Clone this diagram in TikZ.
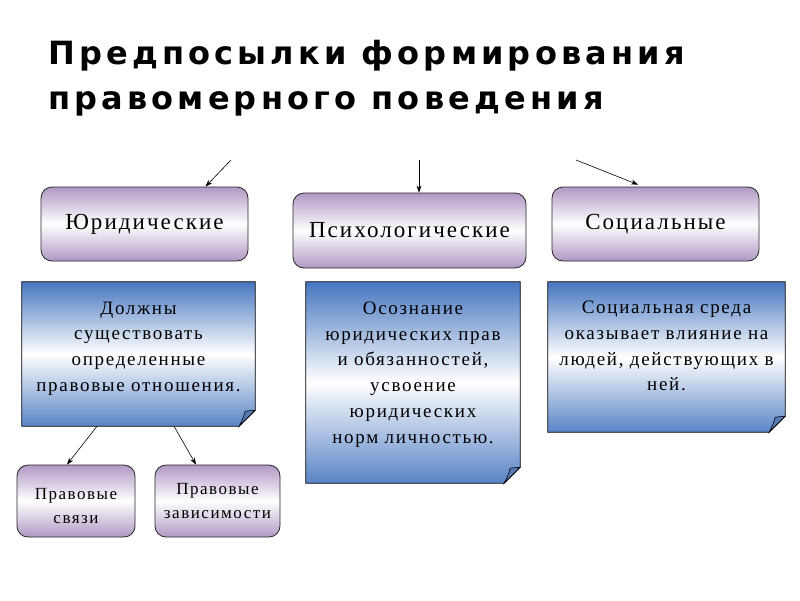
\documentclass[tikz,border=0pt]{standalone}
\usepackage{fontspec}
\setmainfont[LetterSpace=9]{Liberation Serif}
\newfontfamily\titlefont[LetterSpace=13]{DejaVu Sans}
\usetikzlibrary{arrows.meta,backgrounds}

\definecolor{lilac}{RGB}{176,152,196}
\definecolor{noteblue}{RGB}{70,118,192}
\definecolor{folddark}{RGB}{88,122,182}

\tikzset{
	kindbox/.style={draw=black!85, line width=0.8pt, rounded corners=11pt,
		top color=lilac, bottom color=lilac, middle color=white,
		font=\fontsize{23}{27}\selectfont},
	notebox/.style={text width=#1, align=center, inner sep=0pt,
		font=\fontsize{19}{25.8}\selectfont},
	linkbox/.style={draw=black!85, line width=0.8pt, rounded corners=11pt,
		top color=lilac, bottom color=lilac, middle color=white,
		align=center, font=\fontsize{17}{24}\selectfont},
	feed/.style={-{Stealth[length=7pt,width=5pt]}, line width=0.6pt}
}

\begin{document}
\begin{tikzpicture}[x=1pt, y=-1pt]
	\useasboundingbox (0,0) rectangle (800,600);
	% title
	\node[anchor=base west, align=left, inner sep=0pt, font=\titlefont\bfseries\fontsize{32}{45}\selectfont]
		(title) at (48,109) {Предпосылки формирования\\правомерного поведения};
	
	% three kinds of premises
	\node[kindbox, minimum width=207, minimum height=74] (jur) at (144.5,224) {Юридические};
	\node[kindbox, minimum width=233, minimum height=75] (psy) at (409.5,230.5) {Психологические};
	\node[kindbox, minimum width=207, minimum height=74] (soc) at (655.5,224) {Социальные};
	
	\coordinate (jin) at (231,160);
	\coordinate (pin) at (419,160);
	\coordinate (sin) at (576,160);
	\draw[feed] (jin) -- ([xshift=61pt]jur.north);
	\draw[feed] (pin) -- ([xshift=9.5pt]psy.north);
	\draw[feed] (sin) -- ([xshift=-17.5pt,yshift=2pt]soc.north);
	
	% notes with a folded corner
	\node[minimum width=233, minimum height=144] (jnote) at (138.5,354) {};
	\node[minimum width=214, minimum height=201] (pnote) at (413,382.5) {};
	\node[minimum width=237, minimum height=150] (snote) at (666.5,357) {};
	\begin{scope}[on background layer]
		\foreach \n in {jnote,pnote,snote}{
			\shadedraw[draw=black, line width=0.8pt, top color=noteblue, bottom color=noteblue!90!white, middle color=white]
				(\n.north west) -- (\n.north east) -- ([yshift=16pt]\n.south east)
				-- ([xshift=-16pt]\n.south east) -- (\n.south west) -- cycle;
			\filldraw[draw=black, line width=0.6pt, fill=folddark]
				([yshift=16pt]\n.south east) -- ([xshift=-10pt,yshift=15pt]\n.south east)
				.. controls ([xshift=-12pt,yshift=8pt]\n.south east) .. ([xshift=-16pt]\n.south east) -- cycle;
		}
	\end{scope}
	\node[notebox=228] (jtext) at ([yshift=5.5pt]jnote.center)
		{Должны\\существовать\\определенные\\правовые отношения.};
	\node[notebox=210] (ptext) at ([yshift=8pt]pnote.center)
		{Осознание\\юридических прав\\и обязанностей,\\усвоение\\юридических\\норм личностью.};
	\node[notebox=233] (stext) at ([yshift=11pt]snote.center)
		{Социальная среда\\оказывает влияние на\\людей, действующих в\\ней.};
	
	% legal relations
	\node[linkbox, minimum width=118, minimum height=72, text height=46pt] (svyazi) at (76,501) {Правовые\\связи};
	\node[linkbox, minimum width=125, minimum height=72] (zavis) at (217.5,501) {Правовые\\зависимости};
	\draw[feed] ([xshift=-41.5pt]jnote.south) -- ([xshift=-9pt]svyazi.north);
	\draw[feed] ([xshift=35.5pt]jnote.south) -- ([xshift=-21.5pt]zavis.north);
\end{tikzpicture}
\end{document}
